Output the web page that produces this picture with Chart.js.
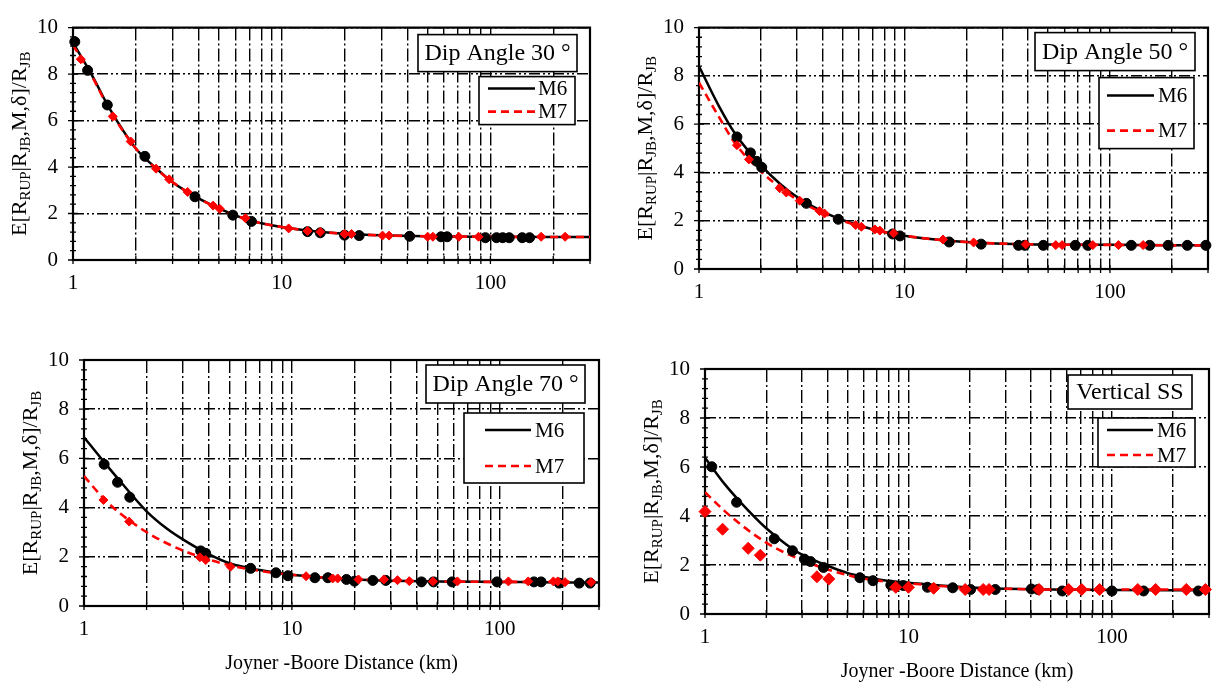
<!DOCTYPE html>
<html>
<head>
<meta charset="utf-8">
<script src="https://cdn.jsdelivr.net/npm/chart.js@4.4.0/dist/chart.umd.min.js"></script>
<style>
  html, body { margin: 0; padding: 0; background: #fff; overflow: hidden; }
  body { width: 1219px; height: 686px; position: relative; }
  canvas { position: absolute; }
</style>
</head>
<body>
<canvas id="c30"></canvas>
<canvas id="c50"></canvas>
<canvas id="c70"></canvas>
<canvas id="css"></canvas>
<script>
// tick / grid positions on the distance axis
const gridX = [1, 2, 3, 4, 5, 6, 7, 8, 9, 10, 20, 30, 40, 50, 60, 70, 80, 90, 100, 200, 300];
const xLabels = [1, 10, 100];

// model curves, sampled at these distances (km)
const curveX = [1, 1.25, 1.5, 2, 2.5, 3, 4, 5, 6, 7, 8, 10, 15, 20, 30, 50, 100, 200, 300];
const dip30M6 = [9.35, 7.85, 6.5, 4.8, 3.95, 3.35, 2.65, 2.22, 1.92, 1.7, 1.58, 1.42, 1.22, 1.13, 1.06, 1.02, 1.0, 0.99, 0.99];
const dip30M7 = [9.25, 7.8, 6.45, 4.8, 3.93, 3.35, 2.65, 2.22, 1.92, 1.72, 1.58, 1.42, 1.22, 1.13, 1.06, 1.02, 1.0, 0.99, 0.99];
const dip50M6 = [8.4, 6.75, 5.6, 4.3, 3.5, 2.98, 2.38, 2.03, 1.8, 1.65, 1.53, 1.38, 1.2, 1.12, 1.05, 1.01, 1.0, 0.98, 0.98];
const dip50M7 = [7.72, 6.3, 5.2, 4.05, 3.35, 2.88, 2.32, 2.0, 1.78, 1.63, 1.52, 1.38, 1.2, 1.12, 1.05, 1.01, 1.0, 0.98, 0.98];
const dip70M6 = [6.86, 5.85, 5.05, 3.85, 3.15, 2.7, 2.1, 1.74, 1.57, 1.46, 1.38, 1.27, 1.14, 1.08, 1.03, 1.0, 0.98, 0.96, 0.96];
const dip70M7 = [5.28, 4.35, 3.75, 3.0, 2.55, 2.25, 1.88, 1.66, 1.52, 1.43, 1.36, 1.27, 1.14, 1.08, 1.03, 1.0, 0.98, 0.98, 0.98];
const vssM6 = [6.38, 5.3, 4.55, 3.5, 2.85, 2.42, 1.97, 1.68, 1.52, 1.42, 1.35, 1.28, 1.15, 1.08, 1.03, 1.0, 0.98, 0.97, 0.97];
const vssM7 = [4.97, 4.2, 3.65, 2.91, 2.48, 2.2, 1.82, 1.59, 1.45, 1.37, 1.31, 1.25, 1.13, 1.07, 1.03, 1.0, 1.0, 1.0, 1.0];

// simulated points [distance, ratio]
const dip30M6Pts = [[1.02,9.39],[1.175,8.16],[1.46,6.67],[2.21,4.46],[3.84,2.72],[5.83,1.93],[7.16,1.66],[13.3,1.22],[15.3,1.17],[20,1.07],[23.5,1.05],[41,1.02],[58,1.0],[62,1.0],[94.6,0.96],[107,0.96],[114.5,0.96],[123,0.96],[142,0.96],[154,0.96]];
const dip30M7Pts = [[1.09,8.64],[1.55,6.18],[1.89,5.1],[2.5,3.93],[2.89,3.47],[3.54,2.93],[4.69,2.34],[5.05,2.2],[6.7,1.8],[10.8,1.36],[13.3,1.25],[15.3,1.21],[20,1.12],[21.6,1.12],[30.4,1.05],[32.7,1.05],[50,1.0],[53,1.0],[70.5,1.0],[87.7,1.0],[175,1.0],[228,1.0]];
const dip50M6Pts = [[1.53,5.47],[1.78,4.81],[1.91,4.46],[2.02,4.21],[3.33,2.72],[4.76,2.06],[8.75,1.45],[9.5,1.37],[16.5,1.12],[23.6,1.03],[35.9,0.98],[38.5,0.98],[47.4,0.98],[67.8,0.98],[78,0.98],[127,0.98],[156,0.98],[192,0.98],[238,0.98],[293,0.98]];
const dip50M7Pts = [[1.53,5.13],[1.75,4.54],[2.47,3.35],[2.66,3.17],[3.09,2.83],[3.86,2.4],[4.08,2.3],[5.79,1.82],[6.17,1.75],[7.18,1.64],[7.59,1.59],[8.85,1.48],[15.4,1.22],[21.7,1.1],[38.9,1.02],[54.5,0.99],[58.5,0.99],[82.5,0.99],[110,0.99],[145,0.99]];
const dip70M6Pts = [[1.25,5.76],[1.45,5.03],[1.66,4.42],[3.64,2.24],[3.85,2.14],[6.33,1.53],[8.38,1.35],[9.57,1.23],[12.9,1.15],[14.9,1.15],[18.3,1.08],[20,1.01],[24.5,1.04],[28.3,1.04],[42,0.98],[48,0.98],[59,0.98],[97,0.98],[146,0.98],[158,0.98],[193,0.93],[241,0.93],[272,0.93]];
const dip70M7Pts = [[1.24,4.31],[1.65,3.43],[3.61,1.98],[3.85,1.87],[5.07,1.6],[11.7,1.21],[15.7,1.12],[16.6,1.12],[20.9,1.08],[27.7,1.08],[32.2,1.05],[36.7,1.01],[47.7,1.0],[62.5,1.0],[110,1.0],[137,1.0],[181,1.0],[190,1.0],[206,0.97],[275,0.97]];
const vssM6Pts = [[1.08,6.01],[1.43,4.56],[2.19,3.07],[2.69,2.58],[3.08,2.24],[3.3,2.14],[3.82,1.9],[5.77,1.48],[6.69,1.36],[8.19,1.18],[9.43,1.16],[12.4,1.09],[16.5,1.07],[20.2,1.0],[26.7,1.0],[40.2,1.02],[43.3,1.0],[57,0.94],[100,0.94],[143,0.94],[266,0.94]];
const vssM7Pts = [[1.0,4.18],[1.22,3.46],[1.63,2.68],[1.87,2.4],[3.55,1.52],[4.06,1.43],[8.66,1.09],[10,1.09],[13.3,1.05],[19,1.0],[23.3,1.0],[24.9,1.0],[43.8,1.0],[61.3,1.0],[71,1.0],[87,1.0],[134,1.0],[164,1.0],[232,1.0],[288,1.0]];

const seriesNames = ['M6', 'M7'];
const xTitle = 'Joyner -Boore Distance (km)';

Chart.defaults.font.family = "'Liberation Serif', 'Times New Roman', serif";
Chart.defaults.color = '#000';

// page layout of the four panels
const panels = [
  { id: 'c30', left: 0, top: 0, w: 610, h: 300, area: { l: 73, t: 15, r: 590, b: 260 },
    tag: 'Dip Angle 30 °', m6: dip30M6, m7: dip30M7, p6: dip30M6Pts, p7: dip30M7Pts, dia: 4.5,
    tagBox: { dx: -172, dy: 7, w: 159, h: 37 }, leg: { dx: -111, dy: 49, w: 96, h: 48, rows: [12, 35], lx: 9, lw: 47, tx: 59 } },
  { id: 'c50', left: 610, top: 0, w: 609, h: 300, area: { l: 699, t: 23, r: 1214, b: 269 },
    tag: 'Dip Angle 50 °', m6: dip50M6, m7: dip50M7, p6: dip50M6Pts, p7: dip50M7Pts, dia: 4.5,
    tagBox: { dx: -173, dy: 5, w: 160, h: 38 }, leg: { dx: -109, dy: 50, w: 95, h: 71, rows: [18, 53], lx: 8, lw: 47, tx: 59 } },
  { id: 'c70', left: 0, top: 330, w: 610, h: 356, area: { l: 84, t: 360, r: 600, b: 606 }, titleAt: 664,
    tag: 'Dip Angle 70 °', m6: dip70M6, m7: dip70M7, p6: dip70M6Pts, p7: dip70M7Pts, dia: 4.5,
    tagBox: { dx: -173, dy: 5, w: 159, h: 38 }, leg: { dx: -135, dy: 53, w: 120, h: 70, rows: [17, 53], lx: 21, lw: 46, tx: 71 } },
  { id: 'css', left: 610, top: 330, w: 610, h: 356, area: { l: 705, t: 369, r: 1220, b: 614 }, titleAt: 672,
    tag: 'Vertical SS', m6: vssM6, m7: vssM7, p6: vssM6Pts, p7: vssM7Pts, dia: 6,
    tagBox: { dx: -141, dy: 6, w: 124, h: 34 }, leg: { dx: -111, dy: 49, w: 97, h: 49, rows: [12, 37], lx: 9, lw: 46, tx: 59 } }
];

function drawYTitle(ctx, cx, cy) {
  const parts = [['E[R', 0], ['RUP', 1], ['|R', 0], ['JB', 1], [',M,δ]/R', 0], ['JB', 1]];
  const big = "22px 'Liberation Serif'", small = "15px 'Liberation Serif'";
  ctx.save();
  ctx.translate(cx, cy);
  ctx.rotate(-Math.PI / 2);
  ctx.fillStyle = '#000';
  ctx.textBaseline = 'middle';
  ctx.textAlign = 'left';
  let total = 0;
  parts.forEach(p => { ctx.font = p[1] ? small : big; total += ctx.measureText(p[0]).width; });
  let x = -total / 2;
  parts.forEach(p => {
    ctx.font = p[1] ? small : big;
    ctx.fillText(p[0], x, p[1] ? 6 : 0);
    x += ctx.measureText(p[0]).width;
  });
  ctx.restore();
}

const decor = {
  id: 'decor',
  beforeDatasetsDraw(chart) {
    const { ctx, chartArea: a, scales: { x, y } } = chart;
    ctx.save();
    ctx.strokeStyle = '#000';
    ctx.lineWidth = 1.3;
    ctx.beginPath();
    for (let i = 0; i <= 25; i++) {
      const py = y.getPixelForValue(i * 0.4);
      const l = i % 5 === 0 ? 5 : 3;
      ctx.moveTo(a.left - l, py);
      ctx.lineTo(a.left + l, py);
    }
    gridX.forEach(v => {
      const px = x.getPixelForValue(v);
      ctx.moveTo(px, a.bottom - 4);
      ctx.lineTo(px, a.bottom + 4);
    });
    ctx.stroke();
    ctx.lineWidth = 2.2;
    ctx.strokeRect(a.left, a.top, a.right - a.left, a.bottom - a.top);
    ctx.restore();
  },
  afterDraw(chart) {
    const { ctx, chartArea: a } = chart;
    const p = chart.options.plugins.decor;
    ctx.save();
    // panel tag
    const t = p.tagBox;
    ctx.fillStyle = '#fff';
    ctx.fillRect(a.right + t.dx, a.top + t.dy, t.w, t.h);
    ctx.strokeStyle = '#000';
    ctx.lineWidth = 1.6;
    ctx.strokeRect(a.right + t.dx, a.top + t.dy, t.w, t.h);
    ctx.fillStyle = '#000';
    ctx.font = "24px 'Liberation Serif'";
    ctx.textAlign = 'center';
    ctx.textBaseline = 'middle';
    ctx.fillText(p.tag, a.right + t.dx + t.w / 2, a.top + t.dy + t.h / 2 + 1);
    // legend
    const g = p.leg;
    const lx = a.right + g.dx, ly = a.top + g.dy;
    ctx.fillStyle = '#fff';
    ctx.fillRect(lx, ly, g.w, g.h);
    ctx.strokeRect(lx, ly, g.w, g.h);
    ctx.font = "21px 'Liberation Serif'";
    ctx.textAlign = 'left';
    [0, 1].forEach(i => {
      const ds = chart.data.datasets[i];
      const ry = ly + g.rows[i];
      ctx.strokeStyle = ds.borderColor;
      ctx.lineWidth = ds.borderWidth;
      ctx.setLineDash(ds.borderDash || []);
      ctx.beginPath();
      ctx.moveTo(lx + g.lx, ry);
      ctx.lineTo(lx + g.lx + g.lw, ry);
      ctx.stroke();
      ctx.setLineDash([]);
      ctx.fillStyle = '#000';
      ctx.fillText(ds.label, lx + g.tx, ry + 1);
    });
    ctx.restore();
    drawYTitle(ctx, a.left - 53, (a.top + a.bottom) / 2);
  }
};

panels.forEach(pn => {
  const cv = document.getElementById(pn.id);
  cv.width = pn.w;
  cv.height = pn.h;
  cv.style.left = pn.left + 'px';
  cv.style.top = pn.top + 'px';
  const yWidth = pn.area.l - pn.left;
  const xHeight = pn.top + pn.h - pn.area.b;
  const toXY = (xs, ys) => xs.map((v, i) => ({ x: v, y: ys[i] }));
  const toPts = arr => arr.map(d => ({ x: d[0], y: d[1] }));

  new Chart(cv, {
    type: 'scatter',
    data: {
      datasets: [
        { label: seriesNames[0], data: toXY(curveX, pn.m6), showLine: true, borderColor: '#000', borderWidth: 2.5,
          pointRadius: 0, cubicInterpolationMode: 'monotone', order: 3 },
        { label: seriesNames[1], data: toXY(curveX, pn.m7), showLine: true, borderColor: '#ff0000', borderWidth: 2.6,
          borderDash: [8, 5], pointRadius: 0, cubicInterpolationMode: 'monotone', order: 2 },
        { label: seriesNames[0], data: toPts(pn.p6), showLine: false, pointStyle: 'circle', pointRadius: 5,
          backgroundColor: '#000', borderColor: '#000', borderWidth: 1, clip: false, order: 1 },
        { label: seriesNames[1], data: toPts(pn.p7), showLine: false, pointStyle: 'rectRot', pointRadius: pn.dia,
          backgroundColor: '#ff0000', borderColor: '#ff0000', borderWidth: 1, clip: false, order: 0 }
      ]
    },
    options: {
      responsive: false,
      animation: false,
      devicePixelRatio: 1,
      layout: { padding: { left: 0, top: pn.area.t - pn.top, right: pn.left + pn.w - pn.area.r, bottom: 0 } },
      plugins: {
        legend: { display: false },
        tooltip: { enabled: false },
        decor: { tag: pn.tag, tagBox: pn.tagBox, leg: pn.leg }
      },
      scales: {
        x: {
          type: 'logarithmic',
          min: 1,
          max: 300,
          afterBuildTicks: s => { s.ticks = gridX.map(v => ({ value: v })); },
          afterFit: s => { s.height = xHeight; },
          ticks: { autoSkip: false, maxRotation: 0, padding: 11, font: { size: 21 }, color: '#000',
                   callback: v => xLabels.includes(v) ? String(v) : '' },
          grid: { color: '#000', lineWidth: 1.4, drawTicks: false },
          border: { display: false, dash: [13, 3, 2, 3] },
          title: pn.titleAt ? { display: true, text: xTitle, color: '#000', font: { size: 20 },
                   padding: { top: 0, bottom: (pn.top + pn.h - pn.titleAt) - 12 } } : { display: false }
        },
        y: {
          min: 0,
          max: 10,
          afterFit: s => { s.width = yWidth; },
          ticks: { stepSize: 2, padding: 15, font: { size: 21 }, color: '#000' },
          grid: { color: '#000', lineWidth: 1.4, drawTicks: false },
          border: { display: false, dash: [11, 3, 2, 3, 2, 3] }
        }
      }
    },
    plugins: [decor]
  });
});
</script>
</body>
</html>
